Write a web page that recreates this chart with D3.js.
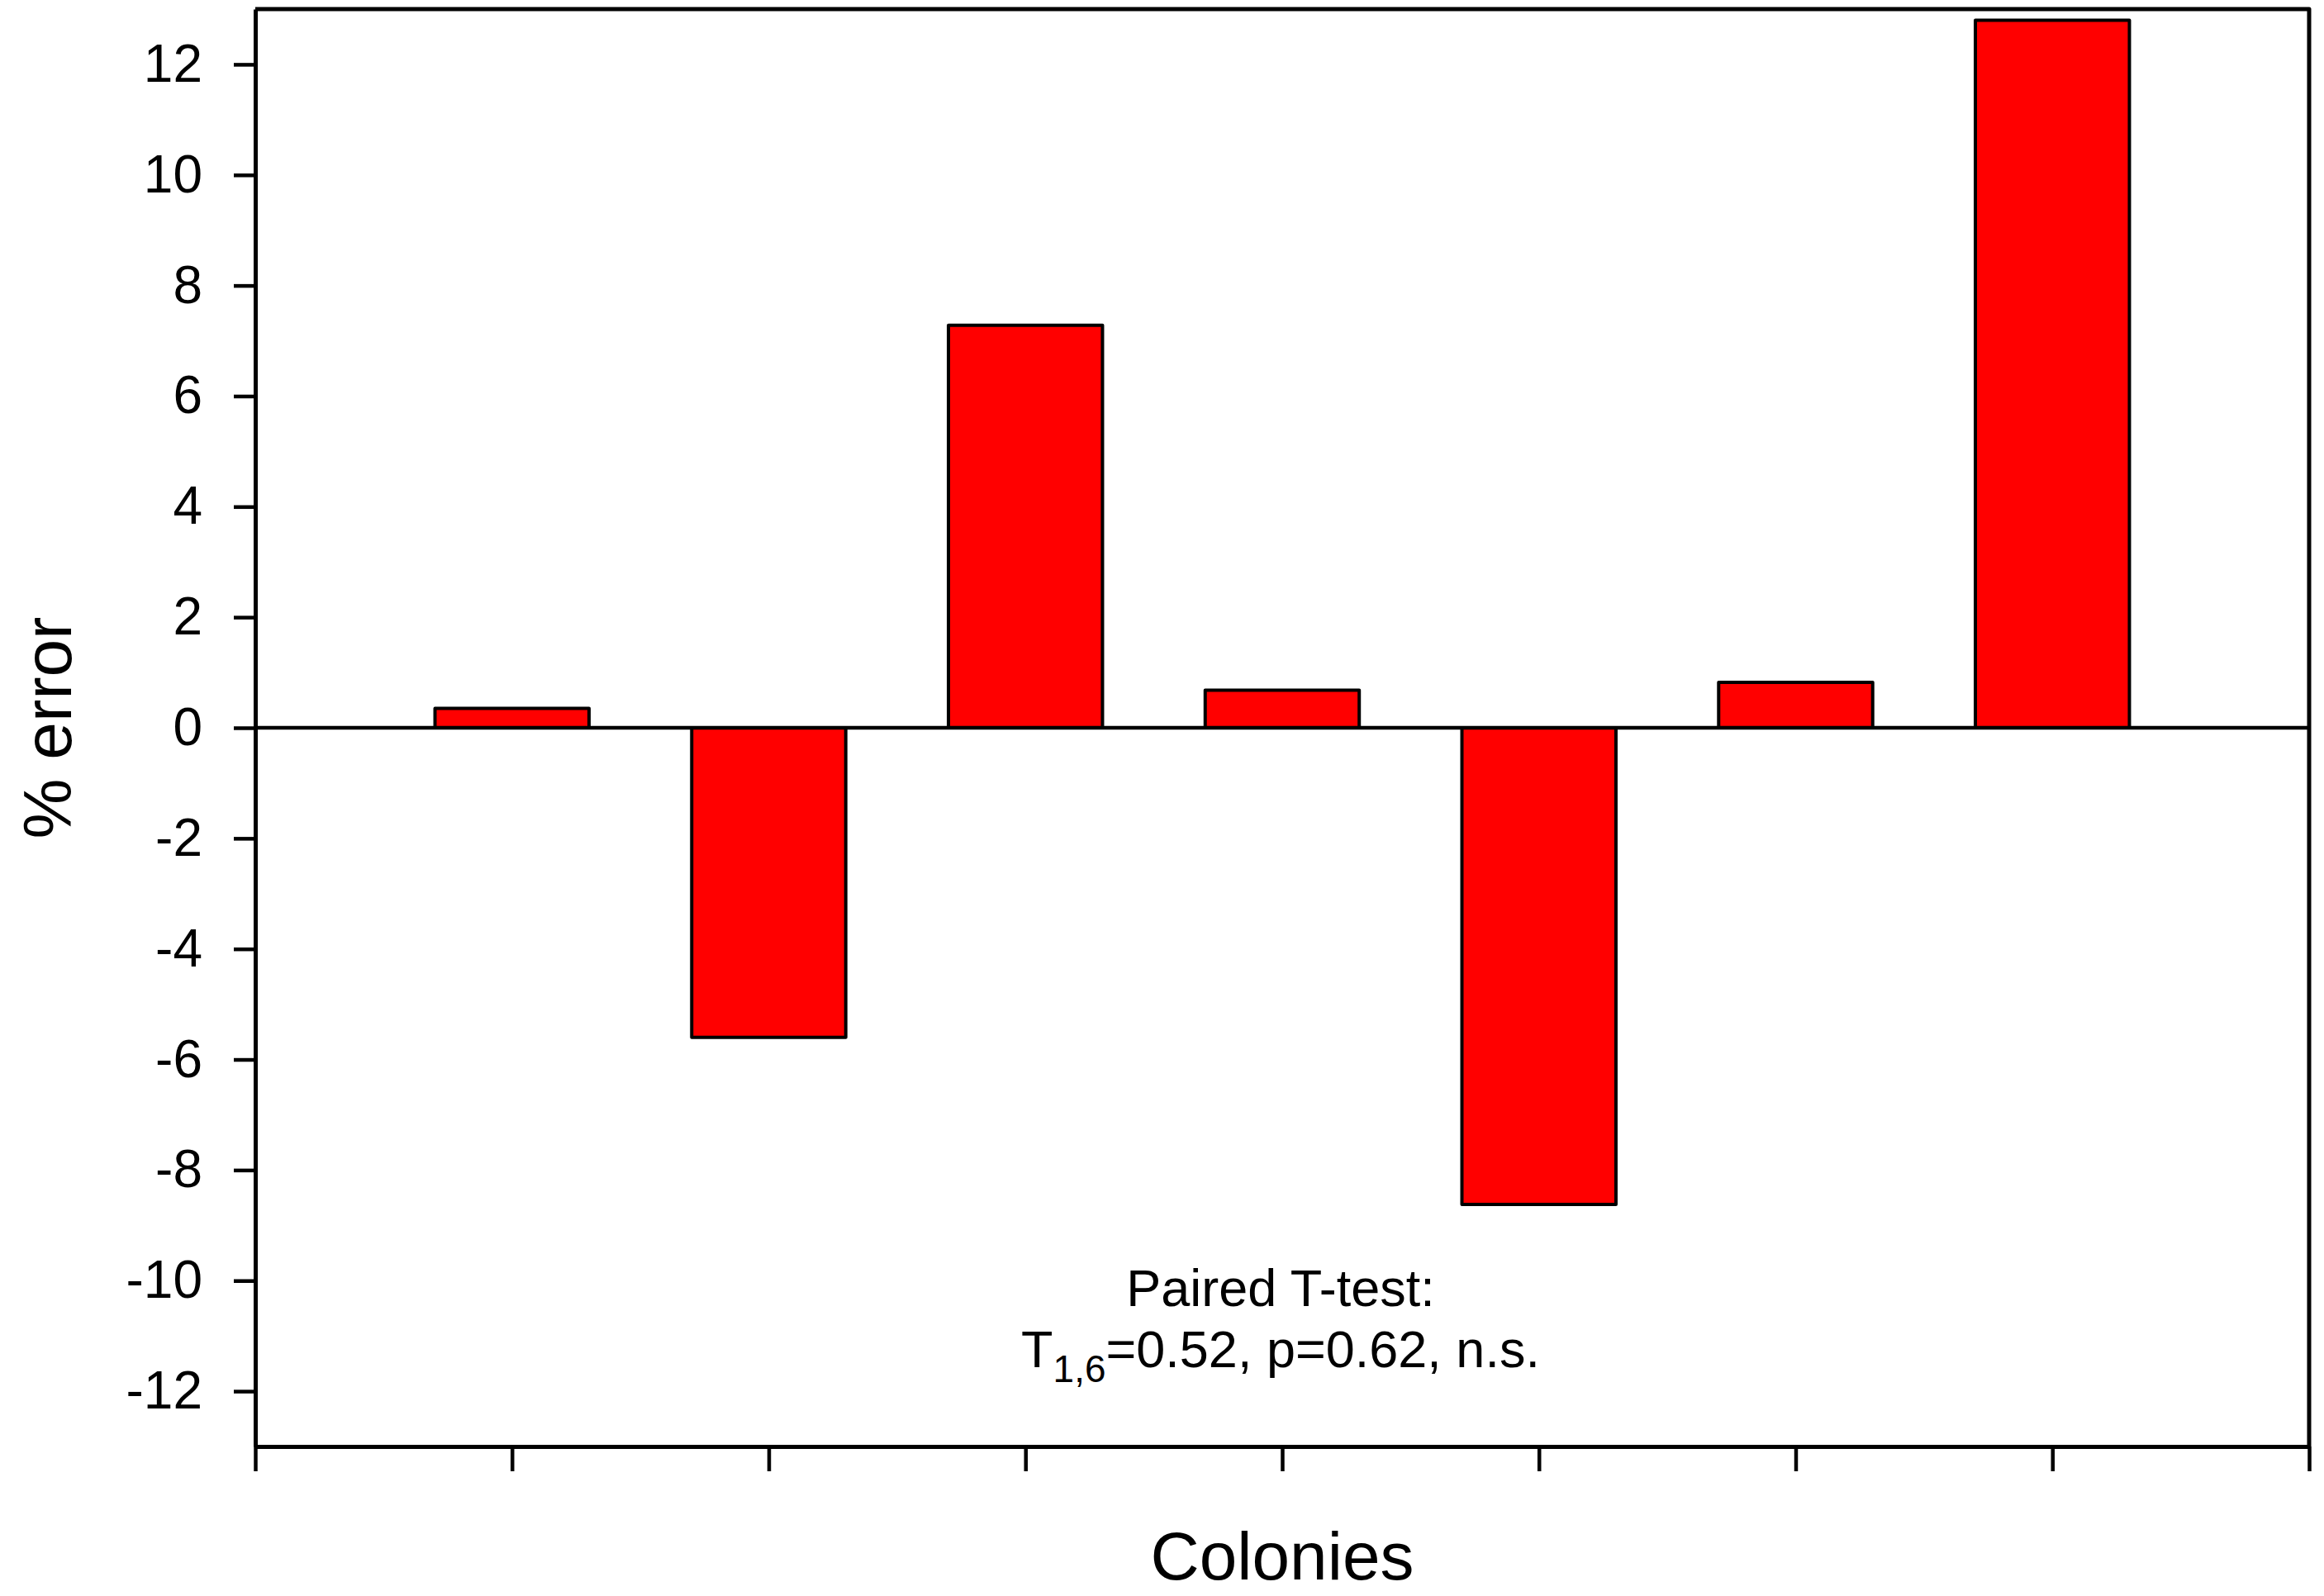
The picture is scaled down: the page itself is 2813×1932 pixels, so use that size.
<!DOCTYPE html>
<html>
<head>
<meta charset="utf-8">
<script src="https://cdn.jsdelivr.net/npm/d3@7"></script>
<style>
  body { margin: 0; background: #fff; }
  text { font-family: "Liberation Sans", Arial, sans-serif; fill: #000; }
</style>
</head>
<body>
<script>
// data
const colonies = [1, 2, 3, 4, 5, 6, 7]
const pctError = [0.35, -5.6, 7.28, 0.68, -8.62, 0.82, 12.8]
const yTicks = [-12, -10, -8, -6, -4, -2, 0, 2, 4, 6, 8, 10, 12]
const xTicks = [0, 1, 2, 3, 4, 5, 6, 7, 8]

const WIDTH = 2813
const HEIGHT = 1932
const margin = { top: 11, bottom: 181, left: 309, right: 18 }

const svg = d3.select('body').append('svg')
    .attr('width', WIDTH)
    .attr('height', HEIGHT);

const x = d3.scaleLinear()
    .domain([0, 8])
    .range([margin.left, WIDTH - margin.right]);

const y = d3.scaleLinear()
    .domain([-13, 13])
    .range([HEIGHT - margin.bottom, margin.top]);

const barW = 0.6 * (x(1) - x(0))

// bars
svg.append('g')
    .selectAll('rect')
    .data(colonies)
    .join('rect')
        .attr('x', (d) => x(d) - barW / 2)
        .attr('y', (d, i) => y(Math.max(0, pctError[i])))
        .attr('width', barW)
        .attr('height', (d, i) => Math.abs(y(pctError[i]) - y(0)))
        .attr('fill', '#ff0000')
        .attr('stroke', '#000')
        .attr('stroke-width', 4)
        .attr('stroke-linejoin', 'round');

// zero line
svg.append('line')
    .attr('x1', x(0)).attr('x2', x(8))
    .attr('y1', y(0)).attr('y2', y(0))
    .attr('stroke', '#000')
    .attr('stroke-width', 4.5);

// frame (top + right)
svg.append('path')
    .attr('d', `M${x(0)},${y(13)}H${x(8)}V${y(-13)}`)
    .attr('fill', 'none')
    .attr('stroke', '#000')
    .attr('stroke-width', 5)
    .attr('stroke-linejoin', 'round');

// y axis (plain hyphen for negatives, like the original)
const yAxis = svg.append('g')
    .attr('transform', `translate(${margin.left},0)`)
    .call(d3.axisLeft(y).tickValues(yTicks).tickSize(26).tickSizeOuter(0).tickPadding(38)
        .tickFormat((d) => String(d)));
yAxis.select('.domain').attr('stroke-width', 5);
yAxis.selectAll('.tick line').attr('stroke-width', 4.5);
yAxis.selectAll('.tick text')
    .attr('font-size', 64)
    .attr('font-family', '"Liberation Sans", Arial, sans-serif');

// x axis
const xAxis = svg.append('g')
    .attr('transform', `translate(0,${HEIGHT - margin.bottom})`)
    .call(d3.axisBottom(x).tickValues(xTicks).tickSize(30).tickSizeOuter(0).tickFormat(''));
xAxis.select('.domain').attr('stroke-width', 5);
xAxis.selectAll('.tick line').attr('stroke-width', 4.5);

// axis titles
svg.append('text')
    .attr('transform', `translate(86,${y(0)}) rotate(-90)`)
    .attr('text-anchor', 'middle')
    .attr('font-size', 82)
    .text('% error');

svg.append('text')
    .attr('x', x(4))
    .attr('y', 1912)
    .attr('text-anchor', 'middle')
    .attr('font-size', 82)
    .text('Colonies');

// annotation
svg.append('text')
    .attr('x', 1550)
    .attr('y', 1581)
    .attr('text-anchor', 'middle')
    .attr('font-size', 63)
    .text('Paired T-test:');

const t2 = svg.append('text')
    .attr('x', 1550)
    .attr('y', 1655)
    .attr('text-anchor', 'middle')
    .attr('font-size', 63);
t2.append('tspan').text('T');
t2.append('tspan').attr('font-size', 46).attr('dy', 18).text('1,6');
t2.append('tspan').attr('dy', -18).text('=0.52, p=0.62, n.s.');
</script>
</body>
</html>
